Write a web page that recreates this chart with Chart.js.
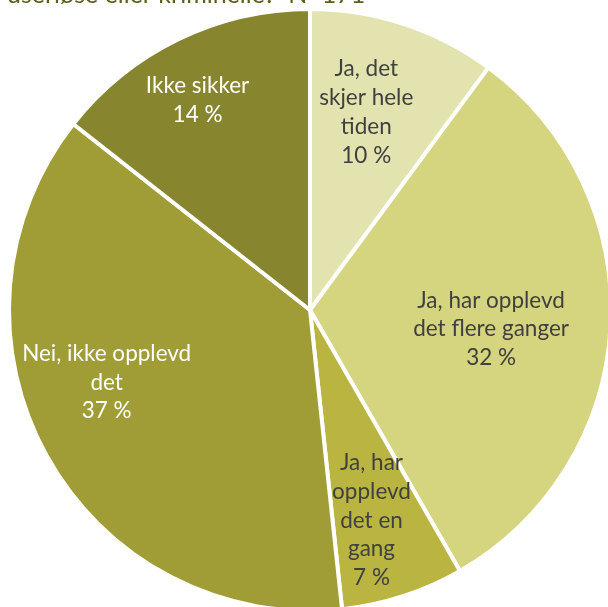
<!DOCTYPE html>
<html>
<head>
<meta charset="utf-8">
<script src="https://cdn.jsdelivr.net/npm/chart.js@4"></script>
<style>
  html, body { margin: 0; padding: 0; background: #ffffff; overflow: hidden; }
  #wrap { position: relative; width: 620px; height: 620px; }
</style>
</head>
<body>
<div id="wrap"><canvas id="pie" width="620" height="620"></canvas></div>
<script>
// Survey answers, N=171
const titleText = 'useriøse eller kriminelle?  N=171';
const labelLines = [
  ['Ja, det', 'skjer hele', 'tiden'],
  ['Ja, har opplevd', 'det flere ganger'],
  ['Ja, har', 'opplevd', 'det en', 'gang'],
  ['Nei, ikke opplevd', 'det'],
  ['Ikke sikker']
];
const categories = labelLines.map(l => l.join(' '));
const shares = [10.1, 31.6, 6.6, 37.3, 14.4];
const sliceColors = ['#e3e3b0', '#d5d47f', '#b9b540', '#a19d36', '#88852f'];
const textColors = ['#404040', '#404040', '#404040', '#ffffff', '#ffffff'];
// label placement inside each slice: angle shift (deg) from the mid-angle, radius fraction
const labelAngleShift = [-2.3, 2.8, 1.7, 9.4, -2.3];
const labelRadius = [0.683, 0.605, 0.728, 0.717, 0.79];

const FONT = '"Lato", "Open Sans", sans-serif';

const sliceLabels = {
  id: 'sliceLabels',
  afterDatasetsDraw(chart) {
    const ctx = chart.ctx;
    const arcs = chart.getDatasetMeta(0).data;
    ctx.save();
    ctx.font = '22.5px ' + FONT;
    ctx.textAlign = 'center';
    ctx.textBaseline = 'middle';
    const lh = 28.8;
    arcs.forEach((arc, i) => {
      const p = arc.getProps(['x', 'y', 'startAngle', 'endAngle', 'outerRadius'], true);
      const a = (p.startAngle + p.endAngle) / 2 + labelAngleShift[i] * Math.PI / 180;
      const r = p.outerRadius * labelRadius[i];
      const cx = p.x + Math.cos(a) * r;
      const cy = p.y + Math.sin(a) * r;
      const lines = labelLines[i].concat([Math.round(shares[i]) + ' %']);
      const y0 = cy - (lines.length - 1) * lh / 2;
      ctx.fillStyle = textColors[i];
      lines.forEach((t, k) => ctx.fillText(t, cx, y0 + k * lh));
    });
    ctx.restore();
  }
};

const topTitle = {
  id: 'topTitle',
  afterDraw(chart) {
    const ctx = chart.ctx;
    ctx.save();
    ctx.font = '25px ' + FONT;
    ctx.fillStyle = '#5f5f1c';
    ctx.textAlign = 'left';
    ctx.textBaseline = 'alphabetic';
    ctx.fillText(titleText, 7, 3);
    ctx.restore();
  }
};

new Chart(document.getElementById('pie'), {
  type: 'pie',
  data: {
    labels: categories,
    datasets: [{
      data: shares,
      backgroundColor: sliceColors,
      borderColor: '#ffffff',
      borderWidth: 4
    }]
  },
  options: {
    responsive: false,
    devicePixelRatio: 1,
    animation: false,
    layout: { padding: 7 },
    plugins: {
      legend: { display: false },
      tooltip: { enabled: false },
      title: { display: false }
    }
  },
  plugins: [sliceLabels, topTitle]
});
</script>
</body>
</html>
